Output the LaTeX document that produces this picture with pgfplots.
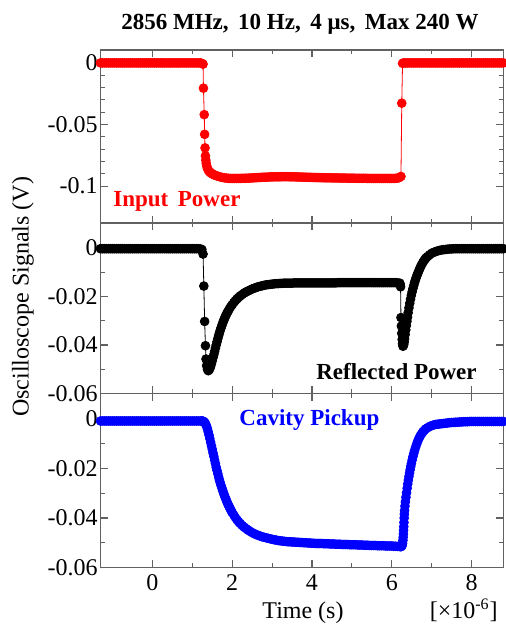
\documentclass[border=0pt]{standalone}
\usepackage{fontspec}
\setmainfont{Liberation Serif}
\usepackage{pgfplots}
\pgfplotsset{compat=1.18}
\definecolor{framec}{gray}{0.38}
\pgfplotsset{
  panel/.style={
    scale only axis, width=201.5pt,
    xmin=-1.3, xmax=8.8,
    xtick={0,2,4,6,8}, minor x tick num=1,
    scaled ticks=false,
    axis line style={framec, line width=0.6pt},
    every tick/.style={framec, line width=0.55pt},
    major tick length=3.6pt, minor tick length=2.1pt,
    tick align=inside,
    /pgf/number format/assume math mode=true,
    every tick label/.append style={font=\fontsize{12}{14}\selectfont},
    yticklabel style={inner xsep=1.2pt},
    anchor=south west,
  },
  sig/.style={mark=*, mark size=2.2pt, line width=0.4pt, mark options={solid}},
}
\begin{document}
\begin{tikzpicture}
\useasboundingbox (0,0) rectangle (252.5pt,313pt);
% top panel: input power
\begin{axis}[panel, at={(50.25pt,201.5pt)}, height=86.5pt,
  ymin=-0.13, ymax=0.0105,
  ytick={-0.1,-0.05,0}, yticklabels={-0.1,-0.05,0},
  minor y tick num=4, xticklabels={}]
\addplot[sig, color=red] coordinates {
(-1.30,0) (-1.25,0) (-1.20,0) (-1.15,0) (-1.10,0) (-1.05,0) (-1.00,0) (-0.95,0) (-0.90,0) (-0.85,0) (-0.80,0) (-0.75,0) (-0.70,0) (-0.65,0) (-0.60,0) (-0.55,0) (-0.50,0) (-0.45,0) (-0.40,0) (-0.35,0) (-0.30,0) (-0.25,0) (-0.20,0) (-0.15,0) (-0.10,0) (-0.05,0)
(0.00,0) (0.05,0) (0.10,0) (0.15,0) (0.20,0) (0.25,0) (0.30,0) (0.35,0) (0.40,0) (0.45,0) (0.50,0) (0.55,0) (0.60,0) (0.65,0) (0.70,0) (0.75,0) (0.80,0) (0.85,0) (0.90,0) (0.95,0) (1.00,0) (1.05,0) (1.10,0) (1.15,0) (1.20,0) (1.24,-0.0003) (1.27,-0.0010)
(1.28,-0.0205) (1.30,-0.042) (1.31,-0.058) (1.32,-0.069) (1.33,-0.0755) (1.34,-0.0790) (1.35,-0.0815) (1.36,-0.0835) (1.38,-0.0855) (1.40,-0.0870) (1.42,-0.0879) (1.44,-0.0886) (1.46,-0.0892) (1.48,-0.0897) (1.50,-0.0901) (1.53,-0.0906) (1.56,-0.0911) (1.60,-0.0916) (1.65,-0.0921) (1.70,-0.0926) (1.75,-0.0930) (1.80,-0.0933) (1.85,-0.0935) (1.90,-0.0937)
(1.95,-0.0938) (2.00,-0.0938) (2.05,-0.0938) (2.10,-0.0938) (2.15,-0.0938) (2.20,-0.0938) (2.25,-0.0937) (2.30,-0.0937) (2.35,-0.0936) (2.40,-0.0936) (2.45,-0.0935) (2.50,-0.0934) (2.55,-0.0933) (2.60,-0.0932) (2.65,-0.0931) (2.70,-0.0930) (2.75,-0.0929) (2.80,-0.0928) (2.85,-0.0928) (2.90,-0.0927) (2.95,-0.0926) (3.00,-0.0926) (3.05,-0.0925) (3.10,-0.0925) (3.15,-0.0925) (3.20,-0.0925) (3.25,-0.0924) (3.30,-0.0924) (3.35,-0.0924) (3.40,-0.0924) (3.45,-0.0925) (3.50,-0.0925) (3.55,-0.0925) (3.60,-0.0926) (3.65,-0.0926) (3.70,-0.0927) (3.75,-0.0927) (3.80,-0.0928) (3.85,-0.0928) (3.90,-0.0929) (3.95,-0.0929)
(4.00,-0.0930) (4.05,-0.0930) (4.10,-0.0931) (4.15,-0.0931) (4.20,-0.0932) (4.25,-0.0932) (4.30,-0.0933) (4.35,-0.0933) (4.40,-0.0933) (4.45,-0.0933) (4.50,-0.0934) (4.55,-0.0934) (4.60,-0.0934) (4.65,-0.0934) (4.70,-0.0935) (4.75,-0.0935) (4.80,-0.0935) (4.85,-0.0935) (4.90,-0.0936) (4.95,-0.0936) (5.00,-0.0936) (5.05,-0.0936) (5.10,-0.0937) (5.15,-0.0937) (5.20,-0.0937) (5.25,-0.0937) (5.30,-0.0937) (5.35,-0.0937) (5.40,-0.0938) (5.45,-0.0938) (5.50,-0.0938) (5.55,-0.0938) (5.60,-0.0938) (5.65,-0.0938) (5.70,-0.0938) (5.75,-0.0938) (5.80,-0.0938) (5.85,-0.0938) (5.90,-0.0938) (5.95,-0.0938) (6.00,-0.0938) (6.05,-0.0938) (6.10,-0.0937) (6.15,-0.0935) (6.19,-0.0931) (6.23,-0.0922)
(6.25,-0.0327) (6.27,-0.0003) (6.30,0) (6.35,0) (6.40,0) (6.45,0) (6.50,0) (6.55,0) (6.60,0) (6.65,0) (6.70,0) (6.75,0) (6.80,0) (6.85,0) (6.90,0) (6.95,0) (7.00,0) (7.05,0) (7.10,0) (7.15,0) (7.20,0) (7.25,0) (7.30,0) (7.35,0) (7.40,0) (7.45,0) (7.50,0) (7.55,0) (7.60,0) (7.65,0) (7.70,0) (7.75,0) (7.80,0) (7.85,0) (7.90,0) (7.95,0) (8.00,0) (8.05,0) (8.10,0) (8.15,0) (8.20,0) (8.25,0) (8.30,0) (8.35,0) (8.40,0) (8.45,0) (8.50,0) (8.55,0) (8.60,0) (8.65,0) (8.70,0) (8.75,0) (8.80,0)
};
\end{axis}
% middle panel: reflected power
\begin{axis}[panel, at={(50.25pt,116.25pt)}, height=85.25pt,
  ymin=-0.06, ymax=0.0103,
  ytick={-0.06,-0.04,-0.02,0}, yticklabels={-0.06,-0.04,-0.02,0},
  minor y tick num=1, xticklabels={}]
\addplot[sig, color=black] coordinates {
(-1.30,-0.0003) (-1.25,-0.0003) (-1.20,-0.0003) (-1.15,-0.0003) (-1.10,-0.0003) (-1.05,-0.0003) (-1.00,-0.0003) (-0.95,-0.0003) (-0.90,-0.0003) (-0.85,-0.0003) (-0.80,-0.0003) (-0.75,-0.0003) (-0.70,-0.0003) (-0.65,-0.0003) (-0.60,-0.0003) (-0.55,-0.0003) (-0.50,-0.0003) (-0.45,-0.0003) (-0.40,-0.0003) (-0.35,-0.0003) (-0.30,-0.0003) (-0.25,-0.0003) (-0.20,-0.0003) (-0.15,-0.0003) (-0.10,-0.0003) (-0.05,-0.0003)
(0.00,-0.0003) (0.05,-0.0003) (0.10,-0.0003) (0.15,-0.0003) (0.20,-0.0003) (0.25,-0.0003) (0.30,-0.0003) (0.35,-0.0003) (0.40,-0.0003) (0.45,-0.0003) (0.50,-0.0003) (0.55,-0.0003) (0.60,-0.0003) (0.65,-0.0003) (0.70,-0.0003) (0.75,-0.0003) (0.80,-0.0003) (0.85,-0.0003) (0.90,-0.0003) (0.95,-0.0003) (1.00,-0.0003) (1.05,-0.0003) (1.10,-0.0003) (1.15,-0.0003) (1.20,-0.0004) (1.24,-0.0006) (1.27,-0.0025)
(1.29,-0.0157) (1.31,-0.0303) (1.33,-0.0403) (1.345,-0.0458) (1.36,-0.0485) (1.38,-0.0500) (1.40,-0.0506) (1.42,-0.0503) (1.44,-0.0497) (1.46,-0.0488) (1.48,-0.0477) (1.50,-0.0465) (1.52,-0.0452) (1.54,-0.0440) (1.56,-0.0427) (1.58,-0.0413) (1.60,-0.0400) (1.62,-0.0387) (1.64,-0.0374) (1.66,-0.0362) (1.68,-0.0351) (1.70,-0.0340) (1.72,-0.0330) (1.74,-0.0320) (1.76,-0.0311) (1.78,-0.0302) (1.80,-0.0294) (1.82,-0.0286) (1.84,-0.0279) (1.86,-0.0272) (1.88,-0.0266) (1.90,-0.0260) (1.93,-0.0251) (1.96,-0.0243) (2.00,-0.0234) (2.04,-0.0225) (2.08,-0.0217) (2.12,-0.0210) (2.16,-0.0204) (2.20,-0.0198) (2.25,-0.0192) (2.30,-0.0186) (2.35,-0.0181) (2.40,-0.0177) (2.45,-0.0173) (2.50,-0.0169) (2.55,-0.0166) (2.60,-0.0163) (2.65,-0.0160) (2.70,-0.0158) (2.75,-0.0156) (2.80,-0.0154) (2.85,-0.0152) (2.90,-0.0151) (2.95,-0.0150)
(3.00,-0.0149) (3.05,-0.0148) (3.10,-0.0147) (3.15,-0.0147) (3.20,-0.0146) (3.25,-0.0146) (3.30,-0.0145) (3.35,-0.0145) (3.40,-0.0145) (3.45,-0.0145) (3.50,-0.0145) (3.55,-0.0144) (3.60,-0.0144) (3.65,-0.0144) (3.70,-0.0144) (3.75,-0.0144) (3.80,-0.0144) (3.85,-0.0144) (3.90,-0.0144) (3.95,-0.0144) (4.00,-0.0144) (4.05,-0.0144) (4.10,-0.0144) (4.15,-0.0144) (4.20,-0.0144) (4.25,-0.0144) (4.30,-0.0144) (4.35,-0.0144) (4.40,-0.0144) (4.45,-0.0144) (4.50,-0.0144) (4.55,-0.0144) (4.60,-0.0144) (4.65,-0.0143) (4.70,-0.0143) (4.75,-0.0143) (4.80,-0.0143) (4.85,-0.0143) (4.90,-0.0143) (4.95,-0.0143)
(5.00,-0.0143) (5.05,-0.0143) (5.10,-0.0143) (5.15,-0.0143) (5.20,-0.0143) (5.25,-0.0143) (5.30,-0.0143) (5.35,-0.0143) (5.40,-0.0143) (5.45,-0.0143) (5.50,-0.0143) (5.55,-0.0143) (5.60,-0.0143) (5.65,-0.0143) (5.70,-0.0143) (5.75,-0.0143) (5.80,-0.0143) (5.85,-0.0143) (5.90,-0.0143) (5.95,-0.0143) (6.00,-0.0143) (6.05,-0.0143) (6.10,-0.0143) (6.15,-0.0144) (6.20,-0.0145) (6.21,-0.0150) (6.22,-0.0160)
(6.23,-0.0287) (6.24,-0.0322) (6.25,-0.0352) (6.26,-0.0377) (6.27,-0.0395) (6.28,-0.0405) (6.29,-0.0403) (6.30,-0.0398) (6.31,-0.0388) (6.32,-0.0375) (6.335,-0.0357) (6.35,-0.0338) (6.365,-0.0320) (6.38,-0.0302) (6.395,-0.0285) (6.41,-0.0267) (6.43,-0.0247) (6.45,-0.0228) (6.47,-0.0211) (6.49,-0.0195) (6.51,-0.0181) (6.53,-0.0167) (6.55,-0.0155) (6.57,-0.0143) (6.59,-0.0133) (6.61,-0.0123) (6.63,-0.0114) (6.65,-0.0105) (6.675,-0.0095) (6.70,-0.0085) (6.725,-0.0076) (6.75,-0.0068) (6.775,-0.0061) (6.80,-0.0054) (6.83,-0.0047) (6.86,-0.0041) (6.90,-0.0035) (6.95,-0.0028) (7.00,-0.0022) (7.05,-0.0018) (7.10,-0.0015) (7.15,-0.0012) (7.20,-0.0010) (7.25,-0.0008) (7.30,-0.0007) (7.35,-0.0006) (7.40,-0.0005) (7.45,-0.0004) (7.50,-0.0004)
(7.55,-0.0003) (7.60,-0.0003) (7.65,-0.0003) (7.70,-0.0003) (7.75,-0.0003) (7.80,-0.0003) (7.85,-0.0003) (7.90,-0.0003) (7.95,-0.0003) (8.00,-0.0003) (8.05,-0.0003) (8.10,-0.0003) (8.15,-0.0003) (8.20,-0.0003) (8.25,-0.0003) (8.30,-0.0003) (8.35,-0.0003) (8.40,-0.0003) (8.45,-0.0003) (8.50,-0.0003) (8.55,-0.0003) (8.60,-0.0003) (8.65,-0.0003) (8.70,-0.0003) (8.75,-0.0003) (8.80,-0.0003)
};
\end{axis}
% bottom panel: cavity pickup
\begin{axis}[panel, at={(50.25pt,29.25pt)}, height=87pt,
  ymin=-0.06, ymax=0.0103,
  ytick={-0.06,-0.04,-0.02,0}, yticklabels={-0.06,-0.04,-0.02,0},
  minor y tick num=1, xticklabels={0,2,4,6,8}]
\addplot[sig, color=blue] coordinates {
(-1.30,-0.0008) (-1.25,-0.0008) (-1.20,-0.0008) (-1.15,-0.0008) (-1.10,-0.0008) (-1.05,-0.0008) (-1.00,-0.0008) (-0.95,-0.0008) (-0.90,-0.0008) (-0.85,-0.0008) (-0.80,-0.0008) (-0.75,-0.0008) (-0.70,-0.0008) (-0.65,-0.0008) (-0.60,-0.0008) (-0.55,-0.0008) (-0.50,-0.0008) (-0.45,-0.0008) (-0.40,-0.0008) (-0.35,-0.0008) (-0.30,-0.0008) (-0.25,-0.0008) (-0.20,-0.0008) (-0.15,-0.0008) (-0.10,-0.0008) (-0.05,-0.0008)
(0.00,-0.0008) (0.05,-0.0008) (0.10,-0.0008) (0.15,-0.0008) (0.20,-0.0008) (0.25,-0.0008) (0.30,-0.0008) (0.35,-0.0008) (0.40,-0.0008) (0.45,-0.0008) (0.50,-0.0008) (0.55,-0.0008) (0.60,-0.0008) (0.65,-0.0008) (0.70,-0.0008) (0.75,-0.0008) (0.80,-0.0008) (0.85,-0.0008) (0.90,-0.0008) (0.95,-0.0008) (1.00,-0.0008) (1.05,-0.0008) (1.10,-0.0008) (1.15,-0.0008) (1.20,-0.0008) (1.24,-0.0008)
(1.26,-0.0008) (1.28,-0.0010) (1.30,-0.0012) (1.32,-0.0016) (1.34,-0.0022) (1.36,-0.0030) (1.38,-0.0040) (1.40,-0.0052) (1.42,-0.0065) (1.44,-0.0079) (1.46,-0.0094) (1.48,-0.0108) (1.50,-0.0122) (1.52,-0.0137) (1.54,-0.0151) (1.56,-0.0166) (1.58,-0.0180) (1.60,-0.0195) (1.62,-0.0208) (1.64,-0.0221) (1.66,-0.0234) (1.68,-0.0246) (1.70,-0.0257) (1.72,-0.0268) (1.74,-0.0278) (1.76,-0.0288) (1.78,-0.0297) (1.80,-0.0306) (1.82,-0.0315) (1.84,-0.0323) (1.86,-0.0331) (1.88,-0.0339) (1.90,-0.0346) (1.92,-0.0353) (1.94,-0.0359) (1.96,-0.0366) (1.98,-0.0372) (2.00,-0.0378)
(2.04,-0.0388) (2.08,-0.0398) (2.12,-0.0407) (2.16,-0.0415) (2.20,-0.0422) (2.25,-0.0430) (2.30,-0.0437) (2.35,-0.0443) (2.40,-0.0449) (2.45,-0.0454) (2.50,-0.0459) (2.55,-0.0463) (2.60,-0.0467) (2.65,-0.0470) (2.70,-0.0473) (2.75,-0.0476) (2.80,-0.0478) (2.85,-0.0480) (2.90,-0.0482) (2.95,-0.0484)
(3.00,-0.0486) (3.05,-0.0488) (3.10,-0.0489) (3.15,-0.0491) (3.20,-0.0492) (3.25,-0.0493) (3.30,-0.0494) (3.35,-0.0495) (3.40,-0.0496) (3.45,-0.0496) (3.50,-0.0497) (3.55,-0.0497) (3.60,-0.0498) (3.65,-0.0498) (3.70,-0.0499) (3.75,-0.0499) (3.80,-0.0500) (3.85,-0.0500) (3.90,-0.0501) (3.95,-0.0501)
(4.00,-0.0502) (4.05,-0.0502) (4.10,-0.0503) (4.15,-0.0503) (4.20,-0.0503) (4.25,-0.0503) (4.30,-0.0504) (4.35,-0.0504) (4.40,-0.0504) (4.45,-0.0505) (4.50,-0.0505) (4.55,-0.0505) (4.60,-0.0506) (4.65,-0.0506) (4.70,-0.0506) (4.75,-0.0507) (4.80,-0.0507) (4.85,-0.0507) (4.90,-0.0507) (4.95,-0.0508)
(5.00,-0.0508) (5.05,-0.0508) (5.10,-0.0508) (5.15,-0.0509) (5.20,-0.0509) (5.25,-0.0509) (5.30,-0.0510) (5.35,-0.0510) (5.40,-0.0510) (5.45,-0.0511) (5.50,-0.0511) (5.55,-0.0511) (5.60,-0.0511) (5.65,-0.0512) (5.70,-0.0512) (5.75,-0.0512) (5.80,-0.0512) (5.85,-0.0513) (5.90,-0.0513) (5.95,-0.0513) (6.00,-0.0513) (6.05,-0.0514) (6.10,-0.0514) (6.15,-0.0515) (6.20,-0.0515) (6.22,-0.0516)
(6.24,-0.0515) (6.25,-0.0513) (6.26,-0.0510) (6.27,-0.0502) (6.28,-0.0490) (6.285,-0.0478) (6.29,-0.0465) (6.295,-0.0450) (6.30,-0.0435) (6.305,-0.0418) (6.31,-0.0400) (6.315,-0.0385) (6.32,-0.0370) (6.33,-0.0352) (6.34,-0.0335) (6.355,-0.0316) (6.37,-0.0298) (6.385,-0.0280) (6.40,-0.0262) (6.415,-0.0247) (6.43,-0.0232) (6.445,-0.0218) (6.46,-0.0205) (6.475,-0.0192) (6.49,-0.0180) (6.51,-0.0166) (6.53,-0.0152) (6.55,-0.0140) (6.57,-0.0128) (6.595,-0.0115) (6.62,-0.0103) (6.645,-0.0092) (6.67,-0.0082) (6.695,-0.0074) (6.72,-0.0066) (6.75,-0.0059) (6.78,-0.0052) (6.815,-0.0046) (6.85,-0.0040) (6.90,-0.0035) (6.95,-0.0030)
(7.00,-0.0027) (7.05,-0.0024) (7.10,-0.0022) (7.15,-0.0021) (7.20,-0.0020) (7.25,-0.0019) (7.30,-0.0018) (7.35,-0.0017) (7.40,-0.0016) (7.45,-0.0015) (7.50,-0.0014) (7.55,-0.0014) (7.60,-0.0013) (7.65,-0.0013) (7.70,-0.0012) (7.75,-0.0012) (7.80,-0.0011) (7.85,-0.0011) (7.90,-0.0011) (7.95,-0.0010)
(8.00,-0.0010) (8.05,-0.0010) (8.10,-0.0010) (8.15,-0.0010) (8.20,-0.0010) (8.25,-0.0010) (8.30,-0.0010) (8.35,-0.0010) (8.40,-0.0010) (8.45,-0.0010) (8.50,-0.0010) (8.55,-0.0010) (8.60,-0.0010) (8.65,-0.0010) (8.70,-0.0010) (8.75,-0.0010) (8.80,-0.0010)
};
\end{axis}
% texts
\node[anchor=base, font=\fontsize{11.5}{13}\selectfont\bfseries] at (150pt,298pt) {2856 MHz,\, 10 Hz,\, 4 μs,\, Max 240 W};
\node[anchor=base west, inner sep=0pt, text=red, font=\fontsize{11.5}{13}\selectfont\bfseries] at (56.5pt,209.7pt) {Input\, Power};
\node[anchor=base east, inner sep=0pt, font=\fontsize{11.5}{13}\selectfont\bfseries] at (238.5pt,123pt) {Reflected Power};
\node[anchor=base west, inner sep=0pt, text=blue, font=\fontsize{11.5}{13}\selectfont\bfseries] at (119.5pt,100pt) {Cavity Pickup};
\node[anchor=base, inner sep=0pt, font=\fontsize{12}{14}\selectfont] at (151.5pt,4pt) {Time (s)};
\node[anchor=base east, inner sep=0pt, font=\fontsize{12}{14}\selectfont] at (249pt,4pt) {[×10\textsuperscript{-6}]};
\node[rotate=90, inner sep=0pt, font=\fontsize{12}{14}\selectfont] at (11.5pt,164.5pt) {Oscilloscope Signals (V)};
\end{tikzpicture}
\end{document}
